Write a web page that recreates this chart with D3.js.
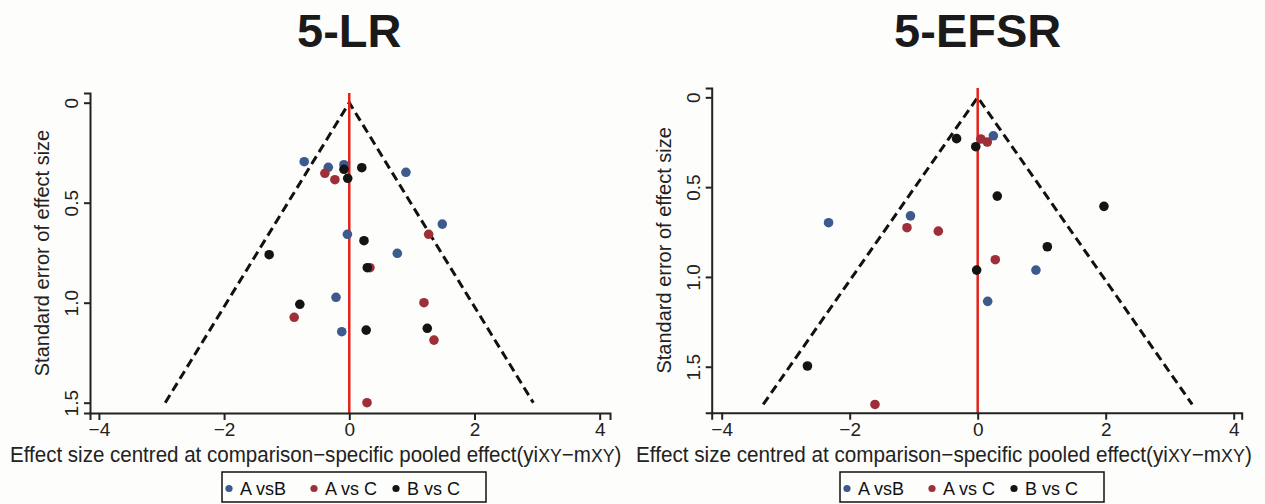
<!DOCTYPE html>
<html><head><meta charset="utf-8">
<script src="https://cdn.jsdelivr.net/npm/d3@7"></script>
<style>
body{margin:0;background:#fdfdfb;}
svg{display:block;font-family:"Liberation Sans",Arial,Helvetica,sans-serif;}
</style>
</head><body>
<svg id="chart" width="1265" height="504"></svg>
<script>
// ---------- data ----------
const seriesNames  = ["A vsB", "A vs C", "B vs C"];
const seriesColors = ["#3c5a8e", "#9e2f39", "#141414"];

const xTicks = [-4, -2, 0, 2, 4];
const xTickLabels = ["\u22124", "\u22122", "0", "2", "4"];
const yTicks = [0, 0.5, 1.0, 1.5];
const yTickLabels = ["0", "0.5", "1.0", "1.5"];

const panelTitles = ["5-LR", "5-EFSR"];
const xTitle = "Effect size centred at comparison\u2212specific pooled effect";
const yTitle = "Standard error of effect size";

// 5-LR
const lrAB_effect = [-0.72, -0.335, -0.085, 0.905, 1.486, -0.03, 0.767, -0.212, -0.12];
const lrAB_se     = [0.295, 0.323, 0.31, 0.348, 0.607, 0.658, 0.753, 0.973, 1.145];
const lrAC_effect = [-0.39, -0.23, 1.268, 0.33, -0.88, 1.193, 1.353, 0.283];
const lrAC_se     = [0.353, 0.385, 0.658, 0.825, 1.073, 1.0, 1.187, 1.50];
const lrBC_effect = [-0.085, 0.2, -0.025, 0.235, -1.28, 0.288, -0.79, 0.27, 1.246];
const lrBC_se     = [0.333, 0.325, 0.378, 0.69, 0.76, 0.825, 1.008, 1.137, 1.128];

// 5-EFSR
const efAB_effect = [0.245, -1.05, -2.33, 0.91, 0.156];
const efAB_se     = [0.214, 0.66, 0.698, 0.962, 1.136];
const efAC_effect = [0.05, 0.15, -1.105, -0.615, 0.275, -1.605];
const efAC_se     = [0.232, 0.249, 0.726, 0.745, 0.904, 1.71];
const efBC_effect = [-0.33, -0.03, 0.306, 1.973, 1.088, -0.016, -2.66];
const efBC_se     = [0.23, 0.275, 0.55, 0.607, 0.832, 0.962, 1.496];

// ---------- layout ----------
const panels = [
  { title: panelTitles[0],
    series: [[lrAB_effect, lrAB_se], [lrAC_effect, lrAC_se], [lrBC_effect, lrBC_se]],
    xDomain: [-4.142, 4.165], xRange: [90, 610],
    yDomain: [-0.0485, 1.5515], yRange: [93, 413],
    xTitleRange: [10, 622], legendX: 222 },
  { title: panelTitles[1],
    series: [[efAB_effect, efAB_se], [efAC_effect, efAC_se], [efBC_effect, efBC_se]],
    xDomain: [-4.156, 4.125], xRange: [711.7, 1241.7],
    yDomain: [-0.052, 1.756], yRange: [88, 412.7],
    xTitleRange: [636, 1252], legendX: 840 }
];

const svg = d3.select("#chart");
svg.append("rect").attr("width", 1265).attr("height", 504).attr("fill", "#fdfdfb");

panels.forEach(p => {
  const x = d3.scaleLinear().domain(p.xDomain).range(p.xRange);
  const y = d3.scaleLinear().domain(p.yDomain).range(p.yRange);
  const g = svg.append("g");

  // title
  g.append("text")
    .attr("x", x(0)).attr("y", 47)
    .attr("text-anchor", "middle")
    .attr("font-size", 47).attr("font-weight", "bold").attr("fill", "#1a1a1a")
    .text(p.title);

  // funnel
  const allSe = p.series.flatMap(s => s[1]);
  const seMax = d3.max(allSe);
  const funnel = [[-1.96 * seMax, seMax], [0, 0], [1.96 * seMax, seMax]];
  g.append("path")
    .attr("d", d3.line().x(d => x(d[0])).y(d => y(d[1]))(funnel))
    .attr("fill", "none").attr("stroke", "#111").attr("stroke-width", 3)
    .attr("stroke-dasharray", "9,5");

  // zero line
  g.append("line")
    .attr("x1", x(0)).attr("x2", x(0))
    .attr("y1", p.yRange[0]).attr("y2", p.yRange[1])
    .attr("stroke", "#e3221c").attr("stroke-width", 2.5);

  // points
  p.series.forEach((s, i) => {
    const pts = s[0].map((v, k) => ({ e: v, se: s[1][k] }));
    g.append("g").selectAll("circle").data(pts).join("circle")
      .attr("cx", d => x(d.e)).attr("cy", d => y(d.se)).attr("r", 4.8)
      .attr("fill", seriesColors[i]);
  });

  // axes
  const xAxis = d3.axisBottom(x).tickValues(xTicks)
    .tickFormat((d, i) => xTickLabels[i]).tickSizeOuter(0).tickSize(7).tickPadding(3);
  const gx = g.append("g").attr("transform", `translate(0,${p.yRange[1]})`).call(xAxis);
  gx.attr("font-family", null);
  gx.selectAll("path,line").attr("stroke", "#222").attr("stroke-width", 2);
  gx.selectAll("text").attr("font-size", 19).attr("fill", "#222");

  const yAxis = d3.axisLeft(y).tickValues(yTicks)
    .tickFormat((d, i) => yTickLabels[i]).tickSizeOuter(0).tickSize(6);
  const gy = g.append("g").attr("transform", `translate(${p.xRange[0]},0)`).call(yAxis);
  gy.attr("font-family", null);
  gy.selectAll("path,line").attr("stroke", "#222").attr("stroke-width", 2);
  gy.selectAll("text")
    .attr("transform", "rotate(-90)")
    .attr("x", 0).attr("y", -12).attr("dy", null)
    .attr("text-anchor", "middle")
    .attr("font-size", 19).attr("fill", "#222");

  // y title
  const yMid = (p.yRange[0] + p.yRange[1]) / 2;
  g.append("text")
    .attr("transform", `translate(${p.xRange[0] - 41},${yMid}) rotate(-90)`)
    .attr("text-anchor", "middle")
    .attr("font-size", 20).attr("fill", "#222")
    .text(yTitle);

  // x title
  const xt = g.append("text")
    .attr("x", 0).attr("y", 0)
    .attr("font-size", 22).attr("fill", "#222");
  xt.append("tspan").text(xTitle + "(yi");
  xt.append("tspan").attr("font-size", 19).text("XY");
  xt.append("tspan").text("\u2212m");
  xt.append("tspan").attr("font-size", 19).text("XY");
  xt.append("tspan").text(")");
  const w = xt.node().getComputedTextLength();
  const target = p.xTitleRange[1] - p.xTitleRange[0];
  xt.attr("transform", `translate(${p.xTitleRange[0]},461.5) scale(${target / w},1)`);

  // legend
  const lx = p.legendX;
  const lg = g.append("g").attr("transform", `translate(${lx},472)`);
  lg.append("rect").attr("x", 0).attr("y", 0).attr("width", 264).attr("height", 30)
    .attr("fill", "none").attr("stroke", "#111").attr("stroke-width", 1.5);
  const itemX = [7, 92, 174];
  seriesNames.forEach((name, i) => {
    lg.append("circle").attr("cx", itemX[i]).attr("cy", 16.5).attr("r", 3.6)
      .attr("fill", seriesColors[i]);
    lg.append("text").attr("x", itemX[i] + 11).attr("y", 22.5)
      .attr("font-size", 18).attr("fill", "#111").text(name);
  });
});
</script>
</body></html>
